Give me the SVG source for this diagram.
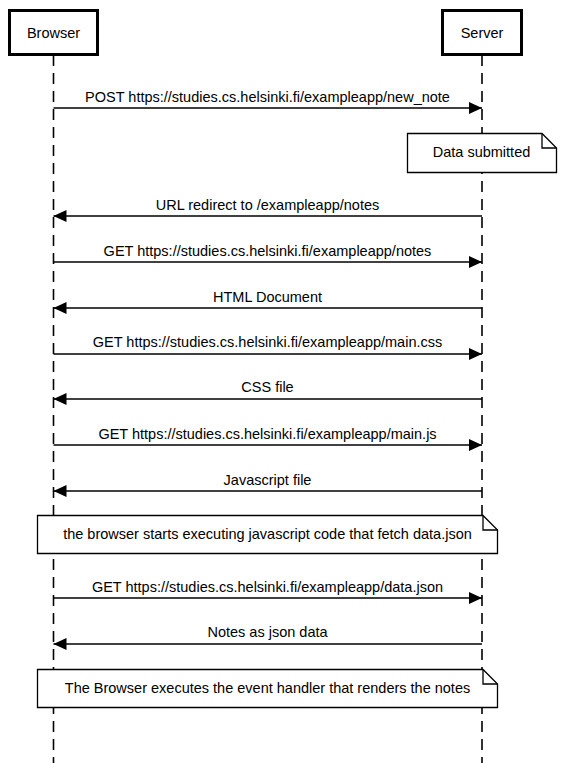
<svg xmlns="http://www.w3.org/2000/svg" width="564" height="763" viewBox="0 0 564 763">
<style>
text{font-family:"Liberation Sans",Arial,sans-serif;font-size:14.5px;fill:#000;text-anchor:middle}
.actor{fill:#fff;stroke:#000;stroke-width:3}
.life{stroke:#000;stroke-width:1.6;stroke-dasharray:11,7;fill:none}
.msg{stroke:#000;stroke-width:1.6;fill:none;marker-end:url(#ah)}
.note{fill:#fff;stroke:#000;stroke-width:1.3}
.fold{fill:none;stroke:#000;stroke-width:1.3}
</style>
<defs>
<marker id="ah" markerUnits="userSpaceOnUse" markerWidth="14" markerHeight="12" refX="13" refY="6" orient="auto">
<path d="M0,0 L13,6 L0,12 Z" fill="#000"/>
</marker>
</defs>
<rect width="564" height="763" fill="#fff"/>
<g id="lifelines">
<line class="life" x1="53.5" y1="55" x2="53.5" y2="763"/>
<line class="life" x1="482" y1="55" x2="482" y2="763"/>
</g>
<g id="browser">
<rect class="actor" x="9.5" y="10.5" width="88" height="44"/>
<text x="53.5" y="38">Browser</text>
</g>
<g id="server">
<rect class="actor" x="442.5" y="10.5" width="79" height="44"/>
<text x="482" y="38">Server</text>
</g>
<g id="connectors">
<line class="msg" x1="53.5" y1="108" x2="482" y2="108"/>
<text x="267.5" y="102">POST https://studies.cs.helsinki.fi/exampleapp/new_note</text>
<line class="msg" x1="482" y1="216" x2="53.5" y2="216"/>
<text x="267.5" y="210">URL redirect to /exampleapp/notes</text>
<line class="msg" x1="53.5" y1="262" x2="482" y2="262"/>
<text x="267.5" y="256">GET https://studies.cs.helsinki.fi/exampleapp/notes</text>
<line class="msg" x1="482" y1="308" x2="53.5" y2="308"/>
<text x="267.5" y="302">HTML Document</text>
<line class="msg" x1="53.5" y1="354" x2="482" y2="354"/>
<text x="267.5" y="347">GET https://studies.cs.helsinki.fi/exampleapp/main.css</text>
<line class="msg" x1="482" y1="399" x2="53.5" y2="399"/>
<text x="267.5" y="392">CSS file</text>
<line class="msg" x1="53.5" y1="445" x2="482" y2="445"/>
<text x="267.5" y="439">GET https://studies.cs.helsinki.fi/exampleapp/main.js</text>
<line class="msg" x1="482" y1="491" x2="53.5" y2="491"/>
<text x="267.5" y="485">Javascript file</text>
<line class="msg" x1="53.5" y1="598" x2="482" y2="598"/>
<text x="267.5" y="592">GET https://studies.cs.helsinki.fi/exampleapp/data.json</text>
<line class="msg" x1="482" y1="644" x2="53.5" y2="644"/>
<text x="267.5" y="637">Notes as json data</text>
</g>
<g id="note-data-submitted">
<path class="note" d="M407.5,133.5 H542 L556.5,148 V172.5 H407.5 Z"/>
<path class="fold" d="M542,133.5 V148 H556.5"/>
<text x="481.5" y="157">Data submitted</text>
</g>
<g id="note-executing">
<path class="note" d="M37.5,515.5 H483 L497.5,530 V553.5 H37.5 Z"/>
<path class="fold" d="M483,515.5 V530 H497.5"/>
<text x="267.5" y="539">the browser starts executing javascript code that fetch data.json</text>
</g>
<g id="note-renders">
<path class="note" d="M37.5,669.5 H483 L497.5,684 V707.5 H37.5 Z"/>
<path class="fold" d="M483,669.5 V684 H497.5"/>
<text x="267.5" y="693">The Browser executes the event handler that renders the notes</text>
</g>
</svg>
